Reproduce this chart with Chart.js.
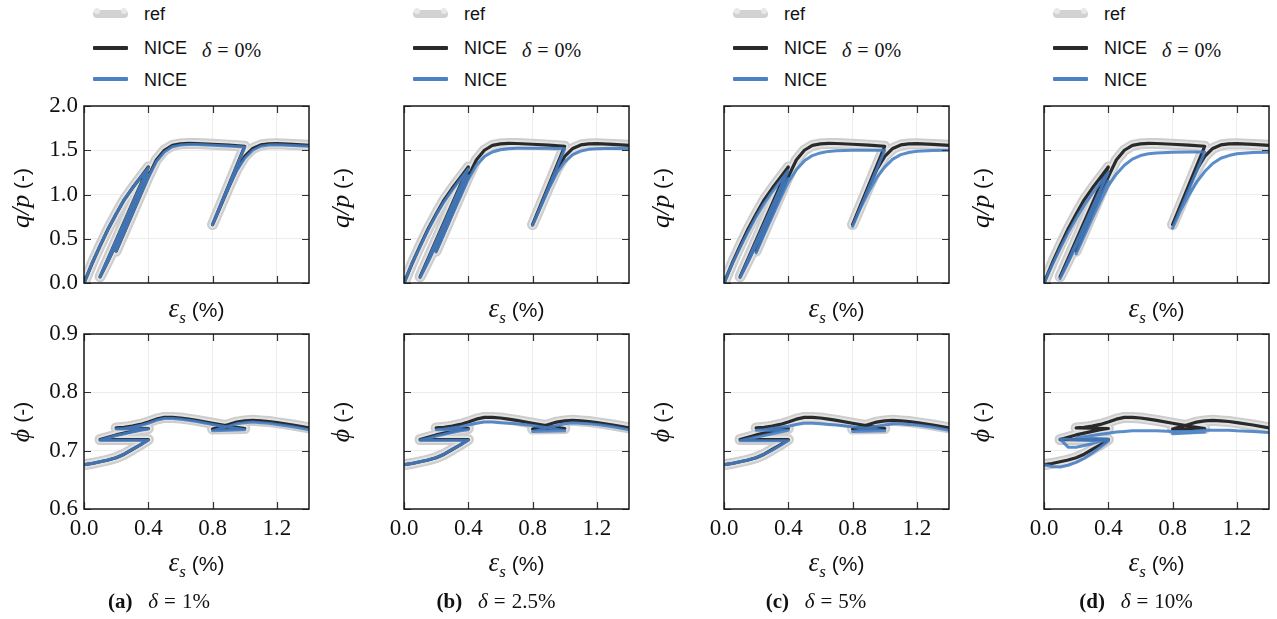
<!DOCTYPE html>
<html>
<head>
<meta charset="utf-8">
<script src="https://cdn.jsdelivr.net/npm/chart.js@4/dist/chart.umd.min.js"></script>
<style>
  body { margin: 0; background: #fff; }
  #fig { position: relative; width: 1277px; height: 619px; overflow: hidden; }
  #fig canvas { position: absolute; }
  .txt { position: absolute; white-space: nowrap; line-height: 1; color: #111; }
  .sans { font-family: 'Liberation Sans', Arial, sans-serif; }
  .serif { font-family: 'Liberation Serif', serif; }
  .m { font-family: 'Liberation Serif', 'DejaVu Serif', serif; font-style: italic; }
  .sub { font-size: 17px; position: relative; top: 6px; font-family: 'Liberation Serif', serif; font-style: italic; }
  .eq { margin: 0 6px; }
  .swatch { position: absolute; }
</style>
</head>
<body>
<div id="fig"></div>
<script>
// strain path (%), shared by all curves: load, unload, reload, ...
const STRAIN = [0, 0.05, 0.1, 0.15, 0.2, 0.25, 0.3, 0.35, 0.4,
  0.1,
  0.15, 0.2, 0.25, 0.3, 0.35, 0.4,
  0.2,
  0.25, 0.3, 0.35, 0.4, 0.45, 0.5, 0.55, 0.6, 0.65, 0.7, 0.8, 0.9, 1.0,
  0.8,
  0.85, 0.9, 0.95, 1.0, 1.05, 1.1, 1.15, 1.2, 1.3, 1.4];

// q/p, NICE with delta = 0% (the reference curve lies on top of it)
const QP_NICE0 = [0, 0.22, 0.42, 0.61, 0.78, 0.94, 1.07, 1.19, 1.31,
  0.07,
  0.25, 0.44, 0.64, 0.84, 1.04, 1.24,
  0.36,
  0.57, 0.78, 0.99, 1.2, 1.39, 1.5, 1.555, 1.572, 1.577, 1.576, 1.568, 1.558, 1.545,
  0.66,
  0.87, 1.08, 1.28, 1.43, 1.52, 1.56, 1.572, 1.574, 1.566, 1.555];
const QP_REF = QP_NICE0;

// q/p, NICE for each delta
const QP_D1 = [0, 0.22, 0.42, 0.61, 0.78, 0.94, 1.07, 1.19, 1.30,
  0.07,
  0.25, 0.44, 0.64, 0.84, 1.04, 1.23,
  0.36,
  0.57, 0.78, 0.99, 1.19, 1.37, 1.48, 1.54, 1.558, 1.564, 1.564, 1.557, 1.548, 1.536,
  0.66,
  0.87, 1.08, 1.27, 1.41, 1.5, 1.545, 1.558, 1.561, 1.554, 1.544];
const QP_D25 = [0, 0.22, 0.41, 0.6, 0.77, 0.92, 1.05, 1.17, 1.29,
  0.06,
  0.24, 0.43, 0.63, 0.83, 1.02, 1.21,
  0.35,
  0.56, 0.77, 0.97, 1.17, 1.33, 1.43, 1.48, 1.505, 1.517, 1.522, 1.524, 1.522, 1.516,
  0.65,
  0.86, 1.06, 1.24, 1.37, 1.45, 1.49, 1.51, 1.518, 1.522, 1.52];
const QP_D5 = [0, 0.21, 0.4, 0.58, 0.75, 0.9, 1.03, 1.15, 1.27,
  0.06,
  0.24, 0.43, 0.62, 0.81, 1.0, 1.18,
  0.34,
  0.55, 0.75, 0.95, 1.14, 1.28, 1.38, 1.44, 1.47, 1.487, 1.495, 1.5, 1.5, 1.5,
  0.64,
  0.85, 1.03, 1.19, 1.31, 1.4, 1.45, 1.475, 1.488, 1.497, 1.5];
const QP_D10 = [0, 0.2, 0.39, 0.57, 0.73, 0.88, 1.01, 1.13, 1.25,
  0.05,
  0.23, 0.42, 0.6, 0.79, 0.97, 1.15,
  0.33,
  0.53, 0.73, 0.92, 1.1, 1.23, 1.33, 1.4, 1.44, 1.46, 1.47, 1.477, 1.48, 1.48,
  0.62,
  0.82, 0.99, 1.14, 1.26, 1.35, 1.41, 1.44, 1.46, 1.474, 1.478];

// porosity phi
const PHI_NICE0 = [0.676, 0.678, 0.681, 0.684, 0.688, 0.694, 0.702, 0.710, 0.719,
  0.719,
  0.723, 0.727, 0.730, 0.733, 0.736, 0.738,
  0.739,
  0.740, 0.742, 0.745, 0.749, 0.754, 0.757, 0.757, 0.756, 0.754, 0.752, 0.747, 0.742, 0.738,
  0.737,
  0.741, 0.745, 0.749, 0.751, 0.752, 0.751, 0.750, 0.748, 0.744, 0.739];
const PHI_REF = PHI_NICE0;

const PHI_D1 = [0.676, 0.678, 0.681, 0.684, 0.688, 0.694, 0.702, 0.710, 0.718,
  0.718,
  0.722, 0.726, 0.729, 0.732, 0.735, 0.737,
  0.737,
  0.738, 0.740, 0.743, 0.747, 0.752, 0.755, 0.755, 0.754, 0.752, 0.750, 0.745, 0.740, 0.736,
  0.734,
  0.738, 0.742, 0.746, 0.748, 0.749, 0.748, 0.747, 0.745, 0.741, 0.736];
const PHI_D25 = [0.676, 0.678, 0.681, 0.684, 0.688, 0.694, 0.702, 0.710, 0.718,
  0.718,
  0.721, 0.725, 0.728, 0.731, 0.734, 0.736,
  0.736,
  0.737, 0.739, 0.741, 0.744, 0.747, 0.749, 0.749, 0.748, 0.747, 0.746, 0.743, 0.739, 0.734,
  0.733,
  0.736, 0.740, 0.743, 0.746, 0.748, 0.747, 0.746, 0.745, 0.741, 0.736];
const PHI_D5 = [0.676, 0.678, 0.681, 0.684, 0.688, 0.694, 0.701, 0.709, 0.717,
  0.717,
  0.720, 0.723, 0.726, 0.729, 0.732, 0.735,
  0.735,
  0.736, 0.738, 0.740, 0.742, 0.745, 0.747, 0.747, 0.746, 0.745, 0.744, 0.741, 0.738, 0.734,
  0.733,
  0.735, 0.739, 0.742, 0.744, 0.746, 0.746, 0.745, 0.744, 0.740, 0.735];
const PHI_D10 = [0.676, 0.673, 0.672, 0.675, 0.680, 0.687, 0.696, 0.706, 0.716,
  0.720,
  0.706, 0.706, 0.709, 0.712, 0.716, 0.720,
  0.722,
  0.724, 0.726, 0.728, 0.730, 0.732, 0.733, 0.734, 0.734, 0.734, 0.734, 0.733, 0.733, 0.732,
  0.729,
  0.730, 0.732, 0.734, 0.735, 0.735, 0.735, 0.735, 0.734, 0.733, 0.731];

const PANEL_TAGS = ['(a)', '(b)', '(c)', '(d)'];
const DELTAS = ['1%', '2.5%', '5%', '10%'];
const QP_BLUE = [QP_D1, QP_D25, QP_D5, QP_D10];
const PHI_BLUE = [PHI_D1, PHI_D25, PHI_D5, PHI_D10];

const X_TICKS = [0, 0.4, 0.8, 1.2];
const QP_TICKS = [0, 0.5, 1.0, 1.5, 2.0];
const PHI_TICKS = [0.6, 0.7, 0.8, 0.9];

const COL_LEFT = [84, 404, 724, 1044];
const CAPTION_X = [159, 496, 816, 1136];
const PLOT_W = 225;
const AXIS_W = 60;
const PAD_TOP = 16;
const PAD_RIGHT = 10;

const BLACK = '#2a2a2a';
const BLUE = 'rgba(68, 125, 196, 0.88)';

const fig = document.getElementById('fig');

const toXY = arr => STRAIN.map((x, i) => ({x: x, y: arr[i]}));

const frameTicks = {
  id: 'frameTicks',
  afterDatasetsDraw(chart) {
    const {ctx, chartArea: a, scales: {x, y}} = chart;
    ctx.save();
    ctx.strokeStyle = '#333';
    ctx.lineWidth = 1.2;
    ctx.beginPath();
    x.ticks.forEach(t => {
      const px = Math.round(x.getPixelForValue(t.value)) + 0.5;
      ctx.moveTo(px, a.bottom); ctx.lineTo(px, a.bottom - 7);
      ctx.moveTo(px, a.top); ctx.lineTo(px, a.top + 7);
    });
    y.ticks.forEach(t => {
      const py = Math.round(y.getPixelForValue(t.value)) + 0.5;
      ctx.moveTo(a.left, py); ctx.lineTo(a.left + 7, py);
      ctx.moveTo(a.right, py); ctx.lineTo(a.right - 7, py);
    });
    ctx.stroke();
    ctx.strokeStyle = '#1a1a1a';
    ctx.lineWidth = 1.5;
    ctx.strokeRect(a.left, a.top, a.right - a.left, a.bottom - a.top);
    ctx.restore();
  }
};

const makeChart = (col, top, plotH, bottomH, refArr, blackArr, blueArr, yTicks, showY, showX) => {
  const canvas = document.createElement('canvas');
  const w = AXIS_W + PLOT_W + PAD_RIGHT;
  const h = PAD_TOP + plotH + bottomH;
  canvas.width = w;
  canvas.height = h;
  canvas.style.left = (COL_LEFT[col] - AXIS_W) + 'px';
  canvas.style.top = (top - PAD_TOP) + 'px';
  fig.appendChild(canvas);

  const line = (data, color, width, order) => ({
    data: toXY(data),
    borderColor: color,
    borderWidth: width,
    pointRadius: 0,
    tension: 0,
    fill: false,
    clip: 0,
    order: order,
    borderJoinStyle: 'round',
    borderCapStyle: 'round'
  });

  new Chart(canvas, {
    type: 'line',
    data: {
      datasets: [
        line(blueArr, BLUE, 3, 1),
        line(blackArr, BLACK, 3.2, 2),
        line(refArr, '#e2e2e2', 7, 3),
        line(refArr, '#cdcdcd', 11, 4)
      ]
    },
    options: {
      responsive: false,
      animation: false,
      devicePixelRatio: 1,
      layout: {padding: {top: PAD_TOP, right: PAD_RIGHT, left: 0, bottom: 0}},
      plugins: {legend: {display: false}, tooltip: {enabled: false}},
      scales: {
        x: {
          type: 'linear',
          min: 0,
          max: 1.4,
          afterBuildTicks: s => { s.ticks = X_TICKS.map(v => ({value: v})); },
          afterFit: s => { s.height = bottomH; s.paddingLeft = 0; s.paddingRight = 0; },
          grid: {color: '#ececec', drawTicks: false},
          border: {display: false},
          ticks: {
            display: showX,
            padding: 6,
            color: '#111',
            font: {family: "'Liberation Serif', serif", size: 23},
            maxRotation: 0,
            callback: v => v.toFixed(1)
          }
        },
        y: {
          type: 'linear',
          min: yTicks[0],
          max: yTicks[yTicks.length - 1],
          afterBuildTicks: s => { s.ticks = yTicks.map(v => ({value: v})); },
          afterFit: s => { s.width = AXIS_W; s.paddingTop = 0; s.paddingBottom = 0; },
          grid: {color: '#ececec', drawTicks: false},
          border: {display: false},
          ticks: {
            display: showY,
            padding: 6,
            color: '#111',
            font: {family: "'Liberation Serif', serif", size: 23},
            callback: v => v.toFixed(1)
          }
        }
      }
    },
    plugins: [frameTicks]
  });
};

const addText = (html, x, y, cls, extra) => {
  const d = document.createElement('div');
  d.className = 'txt ' + (cls || '');
  d.innerHTML = html;
  d.style.left = x + 'px';
  d.style.top = y + 'px';
  d.style.transform = extra || 'translate(-50%, -50%)';
  fig.appendChild(d);
  return d;
};

const addSwatch = (x, y, w, h, bg, radius) => {
  const s = document.createElement('div');
  s.className = 'swatch';
  s.style.left = x + 'px';
  s.style.top = (y - h / 2) + 'px';
  s.style.width = w + 'px';
  s.style.height = h + 'px';
  s.style.background = bg;
  s.style.borderRadius = radius + 'px';
  fig.appendChild(s);
};

const EPS_LABEL = '<span class="m" style="font-size:27px">ε</span><span class="sub">s</span><span class="sans" style="font-size:21px">&nbsp;(%)</span>';
const QP_LABEL = '<span class="m" style="font-size:26px">q/p</span><span class="sans" style="font-size:21px">&nbsp;(-)</span>';
const PHI_LABEL = '<span class="m" style="font-size:26px">ϕ</span><span class="sans" style="font-size:21px">&nbsp;(-)</span>';

for (let c = 0; c < 4; c++) {
  const left = COL_LEFT[c];
  const mid = left + PLOT_W / 2;

  makeChart(c, 106, 177, 16, QP_REF, QP_NICE0, QP_BLUE[c], QP_TICKS, c === 0, false);
  makeChart(c, 334, 175, 40, PHI_REF, PHI_NICE0, PHI_BLUE[c], PHI_TICKS, c === 0, true);

  // legend
  const sx = left + 9;
  addSwatch(sx, 14, 35, 8, '#d2d2d2', 4);
  addSwatch(sx + 1, 14 - 3, 6, 6, '#e8e8e8', 3);
  addSwatch(sx + 28, 14 - 3, 6, 6, '#e8e8e8', 3);
  addSwatch(sx, 48, 35, 3.2, BLACK, 1);
  addSwatch(sx, 79, 35, 3.2, '#4a80c4', 1);
  addText('ref', left + 60, 14, 'sans', 'translate(0, -50%)').style.fontSize = '18px';
  addText('NICE', left + 60, 48, 'sans', 'translate(0, -50%)').style.fontSize = '18px';
  addText('<span class="m">δ</span><span class="eq">=</span>0%', left + 118, 50, 'serif', 'translate(0, -50%)').style.fontSize = '20px';
  addText('NICE', left + 60, 80, 'sans', 'translate(0, -50%)').style.fontSize = '18px';

  // axis titles
  addText(EPS_LABEL, mid, 308);
  addText(EPS_LABEL, mid, 562);
  addText(QP_LABEL, left - 63, 198, '', 'translate(-50%, -50%) rotate(-90deg)');
  addText(PHI_LABEL, left - 63, 422, '', 'translate(-50%, -50%) rotate(-90deg)');

  // caption
  addText('<b>' + PANEL_TAGS[c] + '</b>&nbsp;&nbsp;&nbsp;<span class="m">δ</span><span class="eq">=</span>' + DELTAS[c],
    CAPTION_X[c], 601, 'serif').style.fontSize = '21px';
}
</script>
</body>
</html>
